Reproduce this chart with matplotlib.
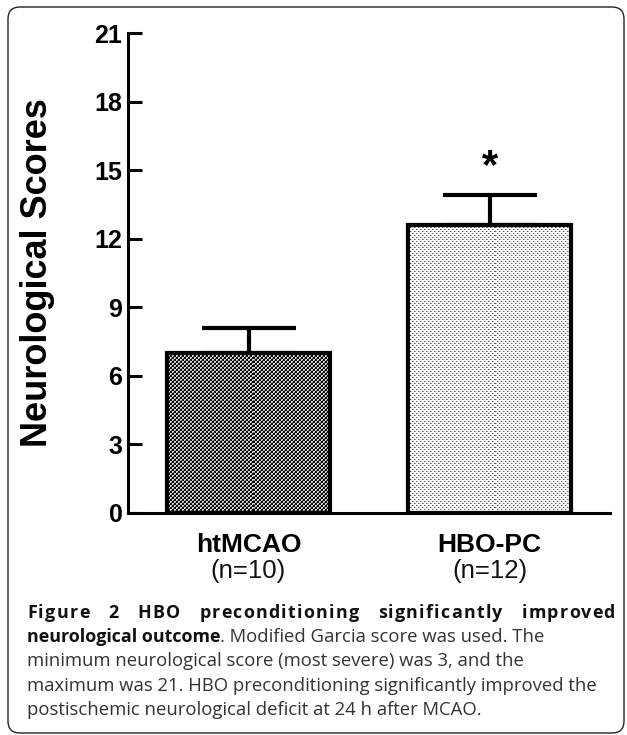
import matplotlib
matplotlib.use('Agg')
import matplotlib.pyplot as plt
import numpy as np
from matplotlib.transforms import blended_transform_factory, IdentityTransform
from matplotlib.patches import FancyBboxPatch

# ---- data ----
groups = ['htMCAO', 'HBO-PC']
group_n = ['(n=10)', '(n=12)']
means = [7.0, 12.6]
sems = [1.1, 1.3]
sig_marks = ['', '*']
yticks = [0, 3, 6, 9, 12, 15, 18, 21]
ylabel = 'Neurological Scores'
caption_bold_words = ['Figure', '2', 'HBO', 'preconditioning', 'significantly', 'improved']
caption_line2_bold = 'neurological outcome'
caption_line2_reg = '. Modified Garcia score was used. The'
caption_rest = ['minimum neurological score (most severe) was 3, and the',
                'maximum was 21. HBO preconditioning significantly improved the',
                'postischemic neurological deficit at 24 h after MCAO.']

plt.rcParams['font.family'] = ['Liberation Sans', 'DejaVu Sans']

W, H, DPI = 627, 735, 100
fig = plt.figure(figsize=(W / DPI, H / DPI), dpi=DPI)
fig.patch.set_facecolor('white')

ax = fig.add_axes([128 / W, 1 - 513 / H, (610 - 128) / W, (513 - 33) / H])
ax.set_facecolor('none')
x = np.arange(len(groups))
ax.set_xlim(-0.5, len(groups) - 0.5)
ax.set_ylim(yticks[0], yticks[-1])

bars = ax.bar(x, means, width=0.68, color='none', edgecolor='black',
              linewidth=3.0, zorder=3)

# textures (pixel patterns) clipped to the bars
renderer = fig.canvas.get_renderer()
bb = ax.get_window_extent(renderer)
wpx, hpx = int(round(bb.width)), int(round(bb.height))
ii, jj = np.mgrid[0:hpx, 0:wpx]
dark = np.where(((ii // 2) + (jj // 2)) % 2 == 0, 0.0, 0.85)
dark[(((ii // 2) + (jj // 2)) % 2 == 1) & ((ii % 2) == 1) & ((jj % 2) == 1)] = 0.45
light = np.ones((hpx, wpx))
dots = (((ii % 4) == 0) & ((jj % 4) == 0)) | (((ii % 4) == 2) & ((jj % 4) == 2))
halo = (((ii % 4) == 0) & ((jj % 4) == 1)) | (((ii % 4) == 2) & ((jj % 4) == 3))
light[halo] = 0.7
light[dots] = 0.32
textures = [dark, light]
ext = (ax.get_xlim()[0], ax.get_xlim()[1], ax.get_ylim()[0], ax.get_ylim()[1])
for bar, tex in zip(bars, textures):
    im = ax.imshow(tex, cmap='gray', vmin=0, vmax=1, extent=ext, origin='upper',
                   aspect='auto', interpolation='nearest', zorder=2)
    im.set_clip_path(bar)
ax.set_xlim(ext[0], ext[1])
ax.set_ylim(ext[2], ext[3])

ax.errorbar(x, means, yerr=[np.zeros(len(sems)), sems], fmt='none',
            ecolor='black', elinewidth=3.0, capsize=34, capthick=3.0, zorder=4)

for xi, m, s, mk in zip(x, means, sems, sig_marks):
    if mk:
        ax.text(xi, m + s + 0.75, mk, ha='center', va='baseline',
                fontsize=30, fontweight='bold', color='black')

for side in ['top', 'right']:
    ax.spines[side].set_visible(False)
for side in ['left', 'bottom']:
    ax.spines[side].set_linewidth(2.2)
ax.set_yticks(yticks)
ax.set_yticklabels([str(t) for t in yticks], fontsize=18, fontweight='bold')
ax.tick_params(axis='y', direction='in', length=10, width=2.2, pad=4)
ax.set_xticks([])

trans = blended_transform_factory(ax.transData, fig.transFigure)
for xi, g, n in zip(x, groups, group_n):
    ax.text(xi, 1 - 552 / H, g, transform=trans, ha='center', va='baseline',
            fontsize=19, fontweight='bold', color='black')
    ax.text(xi, 1 - 578 / H, n, transform=trans, ha='center', va='baseline',
            fontsize=18.5, color='#111111')

fig.text(38 / W, 1 - 273 / H, ylabel, rotation=90, ha='center', va='center',
         fontsize=26, fontweight='bold', color='black')

# ---- caption ----
cap_font = ['Open Sans', 'DejaVu Sans']
left_px, right_px = 27, 615
base = [618, 642, 666, 691, 715]

probe = fig.text(0, 0, caption_rest[1], family=cap_font, fontsize=10)
wprobe = probe.get_window_extent(renderer).width
probe.remove()
cap_size = 10 * 571 / wprobe

probe = fig.text(0, 0, caption_line2_bold, family=cap_font, fontsize=10, fontweight='bold')
wprobe = probe.get_window_extent(renderer).width
probe.remove()
bold_size = 10 * 195 / wprobe

def add(xpx, ybase, s, bold=False, color='#333333'):
    return fig.text(xpx / W, 1 - ybase / H, s, family=cap_font,
                    fontsize=bold_size if bold else cap_size,
                    fontweight='bold' if bold else 'normal', color=color,
                    ha='left', va='baseline')

def width_of(s, bold):
    t = add(0, 0, s, bold)
    w = t.get_window_extent(renderer).width
    t.remove()
    return w

# first caption line: slightly letter-spaced and justified
letter_sp = 1.3
word_items = []
for w in caption_bold_words:
    offs = [0.0] + [width_of(w[:k], True) + letter_sp * k for k in range(1, len(w))]
    wwidth = width_of(w, True) + letter_sp * (len(w) - 1)
    word_items.append((w, offs, wwidth))
gap = (right_px - left_px - sum(wi[2] for wi in word_items)) / (len(word_items) - 1)
xp = left_px
for w, offs, wwidth in word_items:
    for ch, o in zip(w, offs):
        add(xp + o, base[0], ch, True, '#111111')
    xp += wwidth + gap

tb = add(left_px, base[1], caption_line2_bold, True, '#111111')
wb = tb.get_window_extent(renderer).width
add(left_px + wb, base[1], caption_line2_reg)
for line, yb in zip(caption_rest, base[2:]):
    add(left_px, yb, line)

box = FancyBboxPatch((8, 2), 616, 726, boxstyle='round,pad=0,rounding_size=12',
                     transform=IdentityTransform(), fill=False, lw=1.0, ec='#222222')
fig.add_artist(box)

fig.savefig('out.png', dpi=DPI)
